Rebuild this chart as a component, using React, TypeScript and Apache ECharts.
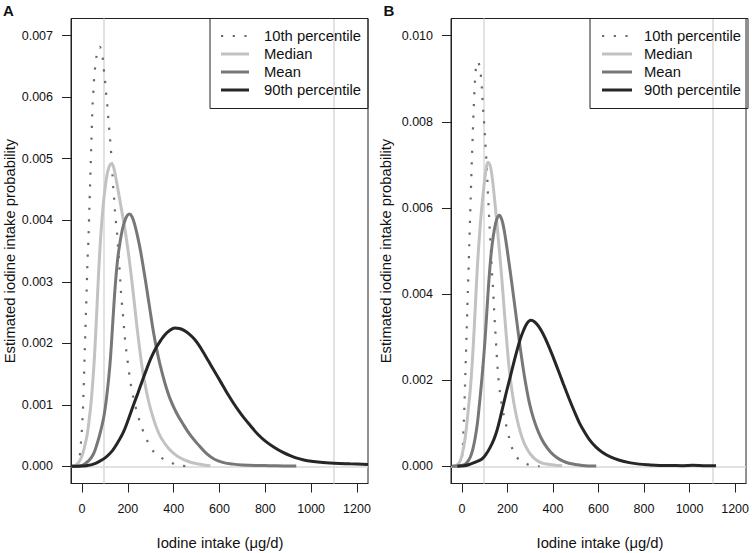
import React, { useEffect, useRef } from "react";
import * as echarts from "echarts";

// ---------- data (x = iodine intake µg/d, y = density in 0.001 units) ----------
const X_TICKS = [0, 200, 400, 600, 800, 1000, 1200];
const Y_TICKS_A = [0, 0.001, 0.002, 0.003, 0.004, 0.005, 0.006, 0.007];
const Y_TICKS_B = [0, 0.002, 0.004, 0.006, 0.008, 0.01];
const REF_X = [95, 1100];
const SERIES_NAMES = ["10th percentile", "Median", "Mean", "90th percentile"];

// Panel A
const A_P10: number[][] = [
  [-25, 0], [-15, 0.06], [-10, 0.15], [-6, 0.32], [-2, 0.5], [1, 0.69], [4, 0.9], [7, 1.24], [10, 1.6],
  [13, 1.97], [16, 2.34], [19, 2.71], [22, 3.08], [25, 3.44], [27.5, 3.62], [30.5, 3.99], [33.5, 4.36],
  [36.5, 4.72], [39.5, 5.09], [42.5, 5.46], [45.5, 5.82], [49, 6.05], [54, 6.35], [60, 6.57], [67, 6.74],
  [77, 6.82], [86, 6.75], [91, 6.62], [96, 6.43], [101, 6.25], [105, 6.07], [110, 5.89], [114, 5.7],
  [118, 5.52], [122, 5.34], [126, 5.15], [130, 4.97], [135, 4.6], [139, 4.42], [142, 4.24], [146, 4.05],
  [151, 3.87], [155, 3.69], [165, 3.14], [171, 2.78], [180, 2.41], [188, 2.05], [200, 1.68], [214, 1.31],
  [234, 0.96], [264, 0.6], [306, 0.27], [341, 0.15], [385, 0.065], [435, 0.01], [483, 0],
];
const A_MEDIAN: number[][] = [
  [-44, 0], [-30, 0.01], [-20, 0.04], [-10, 0.09], [0, 0.17], [10, 0.3], [22, 0.5], [32, 0.78], [40, 1.05],
  [48, 1.42], [55, 1.82], [62, 2.33], [68, 2.8], [74, 3.25], [82, 3.75], [92, 4.22], [102, 4.56], [112, 4.79],
  [122, 4.9], [130, 4.92], [138, 4.86], [146, 4.72], [155, 4.54], [165, 4.33], [174, 4.14], [183, 3.95],
  [196, 3.64], [210, 3.25], [225, 2.77], [242, 2.2], [264, 1.57], [285, 1.15], [300, 0.92], [322, 0.66],
  [344, 0.47], [380, 0.28], [418, 0.16], [470, 0.07], [520, 0.03], [560, 0.008],
];
const A_MEAN: number[][] = [
  [-44, 0], [-7, 0.005], [29, 0.09], [50, 0.2], [66, 0.365], [80, 0.55], [95, 0.8], [106, 1.08], [117, 1.45],
  [125, 1.8], [132, 2.2], [140, 2.67], [148, 3.07], [156, 3.38], [165, 3.62], [175, 3.83], [185, 3.97],
  [196, 4.07], [207, 4.1], [218, 4.06], [230, 3.93], [243, 3.73], [256, 3.49], [270, 3.18], [284, 2.85],
  [298, 2.51], [312, 2.18], [326, 1.9], [340, 1.66], [362, 1.35], [384, 1.1], [412, 0.87], [442, 0.68],
  [472, 0.51], [505, 0.36], [545, 0.2], [580, 0.11], [618, 0.06], [660, 0.035], [700, 0.022],
  [760, 0.013], [820, 0.01], [880, 0.006], [935, 0.005],
];
const A_P90: number[][] = [
  [-47, 0], [0, 0.004], [17, 0.01], [50, 0.035], [76, 0.08], [105, 0.15], [132, 0.25], [155, 0.38],
  [180, 0.55], [203, 0.77], [225, 1.0], [245, 1.2], [264, 1.4], [282, 1.58], [300, 1.75], [322, 1.92],
  [344, 2.05], [362, 2.14], [380, 2.2], [405, 2.25], [425, 2.24], [445, 2.21], [468, 2.15], [490, 2.07],
  [510, 1.97], [530, 1.85], [552, 1.71], [574, 1.57], [596, 1.43], [618, 1.29], [640, 1.15], [662, 1.02],
  [684, 0.9], [706, 0.79], [735, 0.66], [765, 0.53], [800, 0.41], [838, 0.31], [875, 0.23], [911, 0.17],
  [950, 0.12], [984, 0.09], [1040, 0.065], [1102, 0.05], [1170, 0.04], [1248, 0.03],
];

// Panel B
const B_P10: number[][] = [
  [-20, 0], [-10, 0.01], [-5, 0.06], [0, 0.2], [4, 0.45], [7, 0.85], [10, 1.26], [13, 1.78], [16, 2.3],
  [19, 2.83], [22, 3.35], [25, 3.87], [28, 4.4], [31, 4.92], [34, 5.45], [37, 5.97], [40, 6.5], [43, 7.02],
  [46.5, 7.55], [50, 8.07], [54, 8.6], [58, 9.0], [63, 9.3], [70, 9.4], [78, 9.27], [85, 8.98], [91, 8.46],
  [98, 7.93], [104, 7.41], [110, 6.88], [114, 6.35], [119, 5.83], [124, 5.32], [128, 4.95], [132, 4.51],
  [138, 4.0], [143, 3.47], [149, 2.94], [155, 2.42], [163, 1.9], [176, 1.39], [198, 0.87], [224, 0.37],
  [252, 0.15], [296, 0.03], [341, 0],
];
const B_MEDIAN: number[][] = [
  [-44, 0], [-22, 0.03], [-10, 0.1], [0, 0.25], [14.5, 0.67], [29, 1.37], [37, 1.8], [44, 2.3], [54, 3.2],
  [63, 4.15], [70, 4.82], [77, 5.35], [85, 5.88], [95, 6.42], [104, 6.82], [114, 7.06], [123, 7.0],
  [132, 6.75], [145, 6.12], [157, 5.45], [169, 4.75], [181, 3.97], [195, 3.02], [212, 2.07], [234, 1.3],
  [264, 0.67], [300, 0.29], [344, 0.09], [403, 0.03], [440, 0.01],
];
const B_MEAN: number[][] = [
  [-44, 0], [7, 0.03], [22, 0.09], [36.5, 0.21], [48, 0.4], [58.5, 0.67], [68, 1.0], [77, 1.45], [85, 1.88],
  [92, 2.3], [99, 2.76], [105, 3.22], [111, 3.72], [117, 4.2], [125, 4.75], [133, 5.16], [142, 5.48],
  [152, 5.72], [164, 5.83], [175, 5.73], [185, 5.5], [195, 5.17], [206, 4.76], [220, 4.22], [234, 3.65],
  [248, 3.08], [262, 2.53], [278, 1.98], [296, 1.48], [315, 1.1], [337, 0.78], [359, 0.55], [388, 0.34],
  [418, 0.2], [445, 0.12], [470, 0.07], [530, 0.02], [590, 0.005],
];
const B_P90: number[][] = [
  [-20, 0], [10, 0.01], [36.5, 0.05], [62, 0.1], [88, 0.17], [106, 0.28], [124, 0.44], [140, 0.62],
  [154, 0.83], [168, 1.12], [183, 1.45], [197, 1.76], [212, 2.07], [227, 2.39], [242, 2.69], [256, 2.95],
  [271, 3.16], [286, 3.32], [303, 3.39], [320, 3.35], [337, 3.25], [355, 3.09], [374, 2.88], [396, 2.6],
  [420, 2.27], [445, 1.92], [470, 1.58], [495, 1.26], [516, 1.01], [538, 0.8], [560, 0.62], [588, 0.45],
  [618, 0.32], [655, 0.21], [692, 0.14], [735, 0.085], [779, 0.05], [820, 0.033], [868, 0.02],
  [920, 0.018], [970, 0.015], [1014, 0.022], [1060, 0.015], [1116, 0.01],
];

// ---------- styles ----------
const FONT = "'Liberation Sans', Arial, Helvetica, sans-serif";
const COLORS = ["#6a6a6a", "#c2c2c2", "#777777", "#262626"];
const DOT_DASH = [2.2, 9.5];

const toProb = (arr: number[][]) => arr.map(([x, y]) => [x, y / 1000]);

function curveSeries(idx: number, data: number[][], panel: number) {
  const dotted = idx === 0;
  return {
    type: "line",
    name: SERIES_NAMES[idx],
    xAxisIndex: panel,
    yAxisIndex: panel,
    data: toProb(data),
    showSymbol: false,
    symbol: "none",
    smooth: 0.35,
    z: 3,
    lineStyle: {
      color: COLORS[idx],
      width: dotted ? 2.2 : 3,
      type: dotted ? DOT_DASH : "solid",
      cap: "butt",
    },
    silent: true,
  };
}

function refSeries(panel: number) {
  return {
    type: "line",
    xAxisIndex: panel,
    yAxisIndex: panel,
    data: [],
    silent: true,
    z: 1,
    markLine: {
      silent: true,
      symbol: ["none", "none"],
      z: 1,
      label: { show: false },
      lineStyle: { color: "#d9d9d9", width: 1.5, type: "solid" },
      data: [...REF_X.map((v) => ({ xAxis: v })), { yAxis: 0 }],
    },
  };
}

function xAxisOpt(panel: number) {
  return {
    type: "value",
    gridIndex: panel,
    min: -48,
    max: 1248,
    splitLine: { show: false },
    axisLine: { show: true, onZero: false, lineStyle: { color: "#222", width: 1 } },
    axisTick: { show: true, length: 9, customValues: X_TICKS, lineStyle: { color: "#222", width: 1 } },
    axisLabel: {
      customValues: X_TICKS,
      margin: 19,
      color: "#111",
      fontSize: 12.5,
      fontFamily: FONT,
      formatter: (v: number) => String(v),
    },
  };
}

function yAxisOpt(panel: number, ticks: number[], min: number, max: number) {
  return {
    type: "value",
    gridIndex: panel,
    min,
    max,
    splitLine: { show: false },
    axisLine: { show: true, onZero: false, lineStyle: { color: "#222", width: 1 } },
    axisTick: { show: true, length: 9, customValues: ticks, lineStyle: { color: "#222", width: 1 } },
    axisLabel: {
      customValues: ticks,
      margin: 18,
      color: "#111",
      fontSize: 12.5,
      fontFamily: FONT,
      formatter: (v: number) => v.toFixed(3),
    },
  };
}

function legendGraphic(boxX: number, boxW: number, lineX1: number, lineX2: number, textX: number) {
  const rows = [36, 54, 72, 90];
  const els: any[] = [
    {
      type: "rect",
      shape: { x: boxX, y: 18.5, width: boxW, height: 90 },
      style: { fill: "none", stroke: "#222", lineWidth: 1 },
      z: 10,
    },
  ];
  SERIES_NAMES.forEach((name, i) => {
    els.push({
      type: "line",
      shape: { x1: lineX1, y1: rows[i], x2: lineX2, y2: rows[i] },
      style: {
        stroke: COLORS[i],
        lineWidth: i === 0 ? 2.2 : 3,
        lineDash: i === 0 ? DOT_DASH : null,
      },
      z: 10,
    });
    els.push({
      type: "text",
      x: textX,
      y: rows[i],
      style: {
        text: name,
        font: `14.8px ${FONT}`,
        fill: "#111",
        textAlign: "left",
        textVerticalAlign: "middle",
        align: "left",
        verticalAlign: "middle",
      },
      z: 10,
    });
  });
  return els;
}

function textEl(text: string, x: number, y: number, font: string, rotation = 0) {
  return {
    type: "text",
    x,
    y,
    rotation,
    style: {
      text,
      font,
      fill: "#111",
      textAlign: "center",
      textVerticalAlign: "middle",
      align: "center",
      verticalAlign: "middle",
    },
    z: 10,
  };
}

export default function App() {
  const ref = useRef<HTMLDivElement>(null);
  useEffect(() => {
    if (!ref.current) return;
    const chart = echarts.init(ref.current, null, { renderer: "svg" });
    const titleFont = `14.8px ${FONT}`;
    const yTitle = "Estimated iodine intake probability";
    const xTitle = "Iodine intake (μg/d)";
    chart.setOption({
      animation: false,
      backgroundColor: "#fff",
      grid: [
        { left: 71, top: 18.5, width: 297, height: 465, show: true, borderColor: "#222", borderWidth: 1 },
        { left: 451, top: 18.5, width: 297, height: 465, show: true, borderColor: "#222", borderWidth: 1 },
      ],
      xAxis: [xAxisOpt(0), xAxisOpt(1)],
      yAxis: [
        yAxisOpt(0, Y_TICKS_A, -0.00028, 0.00728),
        yAxisOpt(1, Y_TICKS_B, -0.0004, 0.0104),
      ],
      series: [
        refSeries(0),
        refSeries(1),
        curveSeries(0, A_P10, 0),
        curveSeries(1, A_MEDIAN, 0),
        curveSeries(2, A_MEAN, 0),
        curveSeries(3, A_P90, 0),
        curveSeries(0, B_P10, 1),
        curveSeries(1, B_MEDIAN, 1),
        curveSeries(2, B_MEAN, 1),
        curveSeries(3, B_P90, 1),
      ],
      graphic: [
        textEl("A", 8.5, 10.5, `bold 15px ${FONT}`),
        textEl("B", 389, 10.5, `bold 15px ${FONT}`),
        textEl(yTitle, 9.5, 251, titleFont, Math.PI / 2),
        textEl(yTitle, 386, 251, titleFont, Math.PI / 2),
        textEl(xTitle, 220, 543, titleFont),
        textEl(xTitle, 600, 543, titleFont),
        ...legendGraphic(210, 158, 221, 249, 264),
        ...legendGraphic(590, 158, 602, 632, 644),
      ],
    });
    return () => chart.dispose();
  }, []);
  return (
    <div
      ref={ref}
      style={{ position: "absolute", left: 0, top: 0, width: 752, height: 553 }}
    />
  );
}
